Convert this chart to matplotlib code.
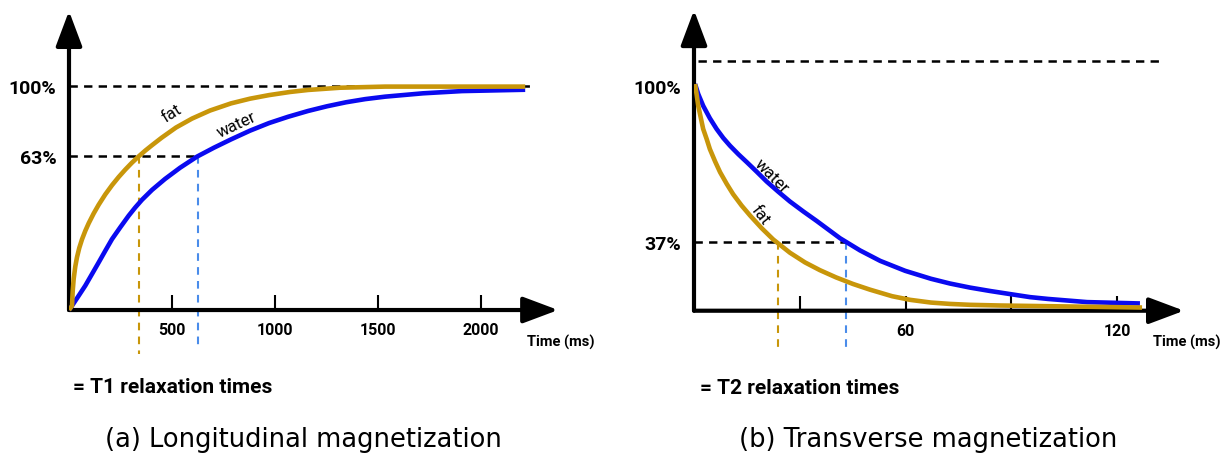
import matplotlib
matplotlib.use("Agg")
import matplotlib.pyplot as plt

plt.rcParams['lines.scale_dashes'] = False
narrow = ['Liberation Sans Narrow', 'Roboto', 'DejaVu Sans']

# (a) longitudinal recovery, time in ms, magnetization in %
t1_fat_t = [0, 14.6, 18.0, 22.8, 30.6, 38.8, 50.0, 63.1, 79.1, 95.6, 119.9, 144.2, 176.2, 208.7,
            241.3, 273.3, 305.8, 338.3, 370.4, 402.9, 449, 519.4, 597.1, 684.5, 786.4, 878.6,
            970.9, 1072.8, 1160.2, 1315.5, 1534, 2214]
t1_fat_m = [0, 1.9, 8.5, 14.0, 19.5, 23.6, 27.8, 31.6, 35.4, 38.8, 43.2, 47.1, 51.7, 55.8,
            59.5, 62.8, 65.9, 68.7, 71.3, 73.7, 77.0, 81.6, 85.6, 89.2, 92.4, 94.5,
            96.1, 97.5, 98.4, 99.4, 99.9, 99.9]
t1_water_t = [0, 14.6, 47.1, 79.1, 111.7, 144.2, 176.2, 208.7, 249, 289.8, 322, 354.4, 402.9,
              466, 538.8, 621.4, 703.9, 786.4, 878.6, 970.9, 1063, 1160, 1252, 1345, 1437,
              1534, 1718, 1908, 2214]
t1_water_m = [0, 1.9, 6.4, 10.9, 16.1, 21.3, 26.5, 31.7, 37.0, 42.2, 45.9, 49.3, 53.7,
              58.6, 63.6, 68.6, 72.6, 76.3, 80.2, 83.6, 86.4, 89.0, 91.1, 92.9, 94.3,
              95.4, 96.9, 97.9, 98.5]
t1_fat, t1_water = 338, 626
t1_level = 68.7
t1_ticks = [500, 1000, 1500, 2000]

# (b) transverse decay, time in ms
t2_water_t = [0.3, 1.2, 2.6, 4.5, 6.4, 8.3, 10.2, 12.6, 15.0, 17.8, 20.6, 23.9, 27.2, 31.0,
              34.8, 38.1, 41.4, 47.1, 52.8, 59.9, 67.2, 72.6, 78.3, 84.0, 89.4, 95.3, 100.4,
              111.5, 126.5]
t2_water_m = [100, 95.6, 90.4, 84.9, 80.2, 76.2, 72.8, 69.0, 65.5, 61.3, 57.0, 52.5, 48.2, 43.8,
              39.6, 35.8, 32.0, 26.6, 22.0, 17.6, 14.1, 12.0, 10.2, 8.7, 7.4, 6.0, 5.2,
              3.8, 3.2]
t2_fat_t = [0.3, 0.8, 1.2, 1.9, 2.6, 3.6, 4.5, 6.0, 7.4, 9.3, 11.1, 13.5, 15.9, 19.2, 22.5,
            27.2, 31.5, 35.7, 40.3, 45.1, 49.9, 56.2, 61.3, 67.2, 72.6, 78.3, 86.8, 100.4, 127.1]
t2_fat_m = [100, 94.8, 90.4, 85.3, 80.2, 75.7, 71.3, 65.8, 61.1, 55.9, 51.4, 46.4, 42.0, 36.4, 31.4,
            25.6, 21.3, 17.9, 14.7, 11.8, 9.3, 6.4, 4.8, 3.6, 3.0, 2.6, 2.3, 2.0, 1.4]
t2_fat, t2_water = 23.8, 43.1
t2_level = 30.2
t2_ticks = [30, 60, 90, 120]
t2_ticklabels = ['', '60', '', '120']

gold = '#C8960A'
blue = '#0A0AF0'
light_blue = '#4A8CEA'
dash = (0, (6, 4.5))
vdash = (0, (5.5, 4.5))

fig = plt.figure(figsize=(12.27, 4.56), dpi=100)
W, H = 1227, 456
axA = fig.add_axes([69 / W, 96 / H, 491 / W, 350 / H])
axB = fig.add_axes([694 / W, 96 / H, 496 / W, 350 / H])


def setup(ax, xmax, ymin, ymax, xtip, ytip):
    ax.set_xlim(0, xmax)
    ax.set_ylim(ymin, ymax)
    for s in ax.spines.values():
        s.set_visible(False)
    ax.spines['bottom'].set_position(('data', 0))
    ax.tick_params(axis='x', direction='in', length=10.8, width=1.5, pad=8.5)
    ax.tick_params(axis='y', length=0, pad=9)
    arrow = dict(arrowstyle='-|>,head_length=1.2,head_width=0.45', mutation_scale=18,
                 lw=3, color='black', shrinkA=0, shrinkB=0)
    ax.annotate('', xy=(xtip, 0), xytext=(0, 0), arrowprops=arrow, zorder=2, annotation_clip=False)
    ax.annotate('', xy=(0, ytip), xytext=(0, 0), arrowprops=arrow, zorder=2, annotation_clip=False)


curve = dict(lw=3.3, solid_capstyle='butt', solid_joinstyle='round')

# ---- (a)
setup(axA, 2383, -21.9, 134.6, 2374, 133.7)
axA.set_xticks(t1_ticks)
axA.set_xticklabels([str(v) for v in t1_ticks], family=narrow, fontweight='bold', fontsize=11.5)
axA.set_yticks([100, t1_level])
axA.set_yticklabels(['100%', '63%'], family=narrow, fontweight='bold', fontsize=14)
axA.plot([0, 2262], [100, 100], color='black', lw=1.8, ls=dash, zorder=1)
axA.plot([0, t1_water], [t1_level, t1_level], color='black', lw=1.8, ls=dash, zorder=1)
axA.plot([t1_fat, t1_fat], [t1_level, -19.7], color=gold, lw=1.5, ls=vdash, zorder=1, clip_on=False)
axA.plot([t1_water, t1_water], [t1_level, -17.4], color=light_blue, lw=1.5, ls=vdash, zorder=1, clip_on=False)
axA.plot(t1_water_t, t1_water_m, color=blue, zorder=3, **curve)
axA.plot(t1_fat_t, t1_fat_m, color=gold, zorder=4, **curve)
axA.text(498, 88.4, 'fat', rotation=32, ha='center', va='center', family=narrow, fontsize=12)
axA.text(814, 83.1, 'water', rotation=25, ha='center', va='center', family=narrow, fontsize=12)
axA.text(2223, -13.9, 'Time (ms)', ha='left', va='center', family=narrow, fontweight='bold',
         fontsize=10.5, clip_on=False)
axA.text(19, -34.4, '= T1 relaxation times', ha='left', va='center', family=narrow,
         fontweight='bold', fontsize=15, clip_on=False)
axA.text(1136, -57.7, '(a) Longitudinal magnetization', ha='center', va='center', fontsize=18.5,
         clip_on=False)

# ---- (b)
setup(axB, 140.7, -21.3, 133.1, 139.0, 132.6)
axB.set_xticks(t2_ticks)
axB.set_xticklabels(t2_ticklabels, family=narrow, fontweight='bold', fontsize=11.5)
axB.set_yticks([99, t2_level])
axB.set_yticklabels(['100%', '37%'], family=narrow, fontweight='bold', fontsize=14)
axB.plot([1, 132.5], [110.1, 110.1], color='black', lw=1.8, ls=dash, zorder=1)
axB.plot([0, t2_water], [t2_level, t2_level], color='black', lw=1.8, ls=dash, zorder=1)
axB.plot([t2_fat, t2_fat], [t2_level, -17.8], color=gold, lw=1.5, ls=vdash, zorder=1, clip_on=False)
axB.plot([t2_water, t2_water], [t2_level, -16.9], color=light_blue, lw=1.5, ls=vdash, zorder=1, clip_on=False)
axB.plot(t2_water_t, t2_water_m, color=blue, zorder=3, **curve)
axB.plot(t2_fat_t, t2_fat_m, color=gold, zorder=4, **curve)
axB.text(22.0, 59.6, 'water', rotation=-45, ha='center', va='center', family=narrow, fontsize=12)
axB.text(18.7, 42.7, 'fat', rotation=-52, ha='center', va='center', family=narrow, fontsize=12)
axB.text(130.2, -13.4, 'Time (ms)', ha='left', va='center', family=narrow, fontweight='bold',
         fontsize=10.5, clip_on=False)
axB.text(1.7, -33.7, '= T2 relaxation times', ha='left', va='center', family=narrow,
         fontweight='bold', fontsize=15, clip_on=False)
axB.text(66.4, -56.5, '(b) Transverse magnetization', ha='center', va='center', fontsize=18.5,
         clip_on=False)

fig.savefig('out.png', dpi=100)
